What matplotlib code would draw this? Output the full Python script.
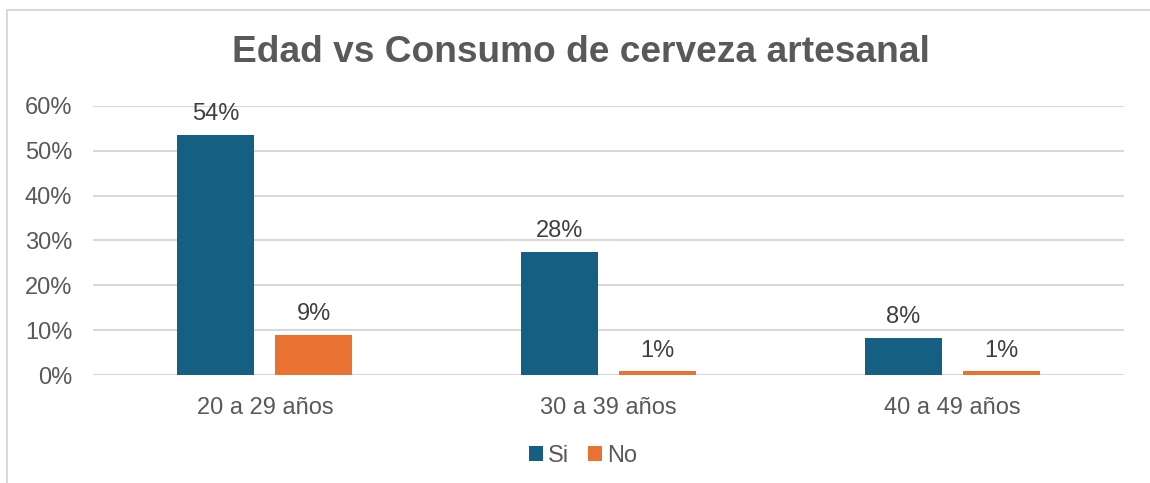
import numpy as np
import matplotlib.pyplot as plt
from matplotlib.patches import Rectangle

categories = ['20 a 29 años', '30 a 39 años', '40 a 49 años']
si = [0.536, 0.275, 0.083]
no = [0.089, 0.008, 0.008]
si_labels = ['54%', '28%', '8%']
no_labels = ['9%', '1%', '1%']

plt.rcParams['font.family'] = ['Liberation Sans', 'DejaVu Sans']

fig = plt.figure(figsize=(11.5, 4.83), dpi=100)
ax = fig.add_axes([93 / 1150, 1 - 375 / 483, 1031 / 1150, 269 / 483])

# chart frame (only top and left edge show)
fig.patches.append(Rectangle((7 / 1150, -0.1), 1.2, 1 - 10 / 483 + 0.1,
                             transform=fig.transFigure, fill=False,
                             edgecolor='#d9d9d9', linewidth=1.5))

x = np.arange(len(categories))
w = 0.224
gap = 0.061
off = (w + gap) / 2
b1 = ax.bar(x - off, si, w, color='#156082', label='Si', zorder=3)
b2 = ax.bar(x + off, no, w, color='#E97132', label='No', zorder=3)

for rect, lab in zip(b1, si_labels):
    ax.text(rect.get_x() + rect.get_width() / 2, rect.get_height() + 0.022, lab,
            ha='center', va='bottom', fontsize=17, color='#404040')
for rect, lab in zip(b2, no_labels):
    ax.text(rect.get_x() + rect.get_width() / 2, rect.get_height() + 0.022, lab,
            ha='center', va='bottom', fontsize=17, color='#404040')

ax.set_xlim(-0.5, 2.5)
ax.set_ylim(0, 0.6)
ax.set_yticks(np.arange(0, 0.61, 0.1))
ax.set_yticklabels([f'{int(round(v * 100))}%' for v in np.arange(0, 0.61, 0.1)])
ax.set_xticks(x)
ax.set_xticklabels(categories)
ax.tick_params(axis='both', length=0, labelsize=17, labelcolor='#595959')
ax.tick_params(axis='x', pad=16)
ax.tick_params(axis='y', pad=15)
ax.grid(axis='y', color='#d9d9d9', linewidth=1.5, zorder=0)
for s in ax.spines.values():
    s.set_visible(False)

fig.text(581 / 1150, 1 - 52 / 483, 'Edad vs Consumo de cerveza artesanal',
         ha='center', va='center', fontsize=26.7, fontweight='bold', color='#595959')

ax.legend(loc='center', bbox_to_anchor=(583 / 1150, 1 - 456 / 483), bbox_transform=fig.transFigure,
          ncol=2, frameon=False, fontsize=17, labelcolor='#595959',
          handlelength=0.6, handleheight=0.6, handletextpad=0.2, columnspacing=0.8)

fig.savefig('out.png', dpi=100, facecolor='white')
